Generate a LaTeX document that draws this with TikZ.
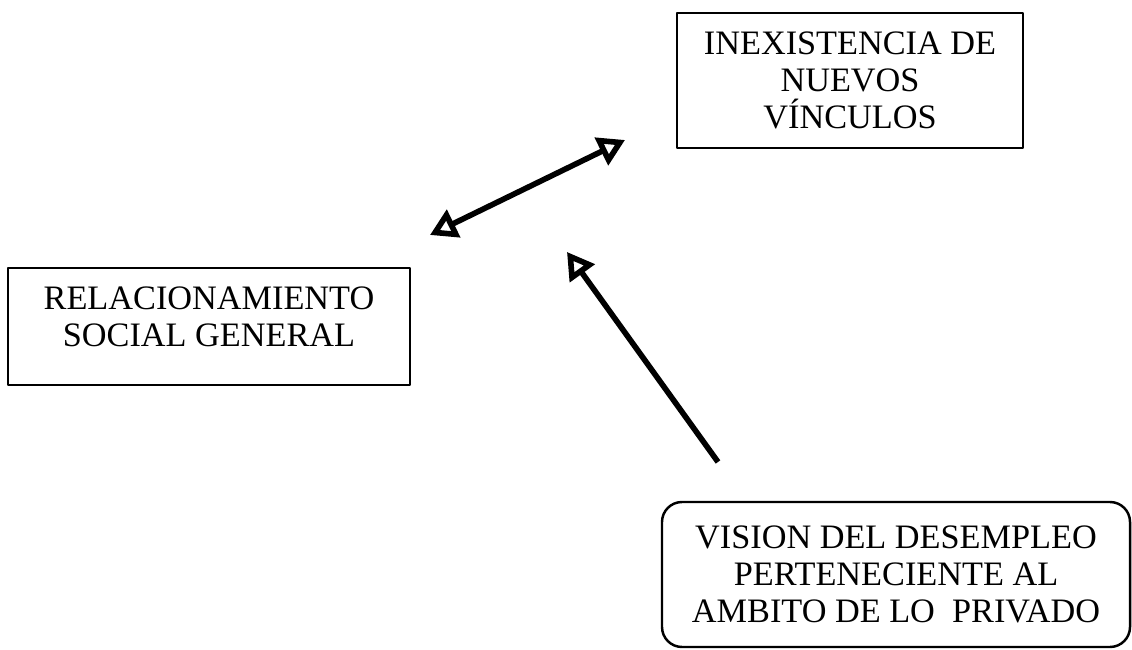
\documentclass[tikz,border=0pt]{standalone}
\usepackage{fontspec}
\setmainfont{Liberation Serif}
\usetikzlibrary{arrows.meta}
\begin{document}
\begin{tikzpicture}[>={Triangle[open,length=15pt,width=17pt]}, line join=round, font=\fontsize{19.5}{21}\selectfont,
  caja/.style={draw, line width=1.4pt, align=center, inner sep=0pt}]
\useasboundingbox (0,0) rectangle (22.64,13);
% Cajas
\node[caja, minimum width=6.92cm, minimum height=2.7cm] (inex) at (17,11.39) {INEXISTENCIA DE\\NUEVOS\\VÍNCULOS};
\node[caja, minimum width=8.04cm, minimum height=2.34cm, text depth=.4cm] (rel) at (4.18,6.47) {RELACIONAMIENTO\\SOCIAL GENERAL};
\node[caja, rounded corners=.4cm, minimum width=9.36cm, minimum height=2.9cm] (vis) at (17.92,1.51) {VISION DEL DESEMPLEO\\PERTENECIENTE AL\\AMBITO DE LO\ \ PRIVADO};
% Flechas
\coordinate (a1) at (8.6,8.3); \coordinate (a2) at (12.5,10.2);
\coordinate (b1) at (14.36,3.76); \coordinate (b2) at (11.34,7.96);
\draw[<->, line width=3.2pt] (a1) -- (a2);
\draw[->, line width=3.2pt] (b1) -- (b2);
\end{tikzpicture}
\end{document}
